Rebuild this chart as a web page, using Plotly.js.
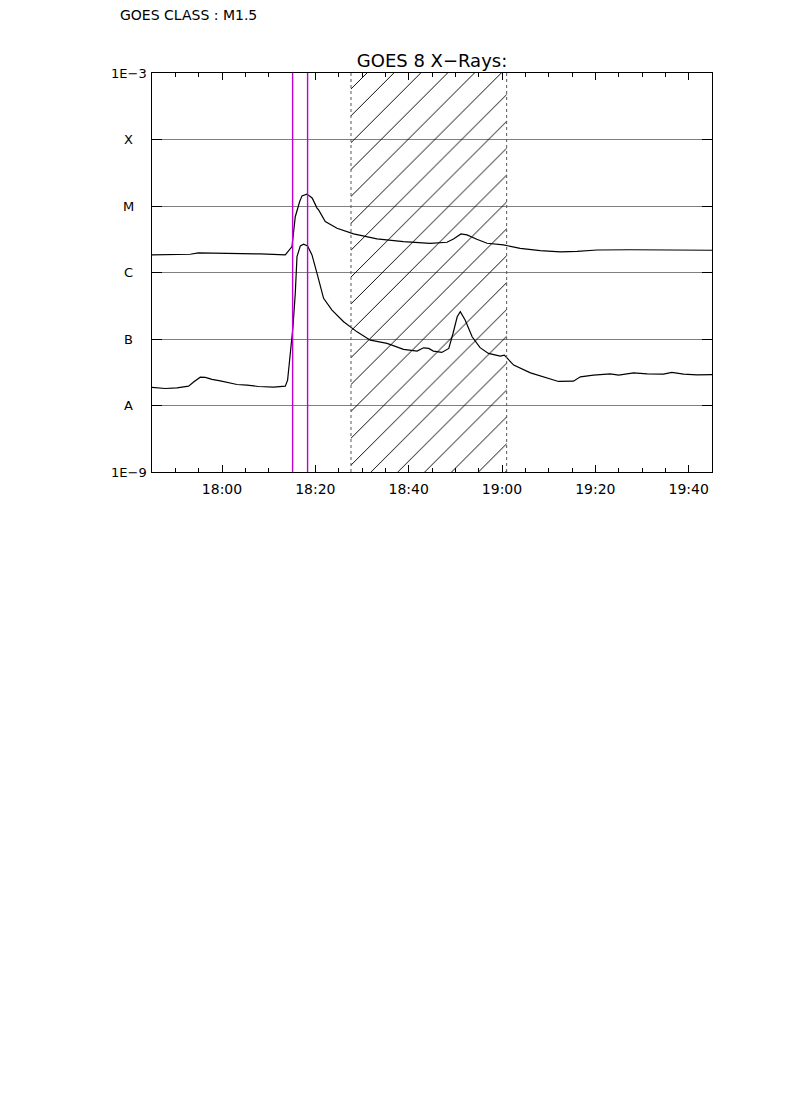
<!DOCTYPE html>
<html>
<head>
<meta charset="utf-8">
<script src="https://cdn.plot.ly/plotly-3.0.1.min.js"></script>
<style>
  html, body { margin: 0; padding: 0; background: #fff; }
  #chart { width: 790px; height: 1118px; }
</style>
</head>
<body>
<div id="chart"></div>
<script>
// ---- data (minutes relative to 18:00 UT, flux in W/m^2) ----
const longTimes = [-15.0, -12.15, -6.79, -5.08, 2.42, 8.2, 13.56, 14.2, 15.0, 15.7, 16.07, 16.63, 17.14, 17.63, 18.17, 18.92, 19.35, 20.36, 20.7, 22.13, 24.64, 28.2, 33.2, 38.9, 44.6, 48.2, 49.6, 51.2, 52.5, 54.6, 56.8, 60.3, 63.9, 68.2, 72.5, 76.1, 80.4, 87.5, 94.6, 105.0];
const longFlux = [1.84e-6, 1.84e-6, 1.88e-6, 1.97e-6, 1.95e-6, 1.90e-6, 1.84e-6, 2.06e-6, 2.45e-6, 6.9e-6, 8.73e-6, 1.16e-5, 1.42e-5, 1.47e-5, 1.51e-5, 1.39e-5, 1.31e-5, 9.3e-6, 8.73e-6, 5.82e-6, 4.63e-6, 3.80e-6, 3.20e-6, 2.91e-6, 2.75e-6, 2.85e-6, 3.20e-6, 3.80e-6, 3.67e-6, 3.16e-6, 2.75e-6, 2.60e-6, 2.31e-6, 2.13e-6, 2.04e-6, 2.08e-6, 2.18e-6, 2.20e-6, 2.20e-6, 2.16e-6];

const shortTimes = [-15.0, -12.15, -9.64, -7.16, -6.09, -4.65, -3.58, -2.14, -0.36, 3.21, 5.36, 7.84, 11.06, 13.56, 14.06, 14.63, 15.21, 15.7, 16.07, 16.78, 17.48, 18.34, 19.28, 20.36, 21.77, 23.57, 26.06, 28.93, 31.78, 35.36, 38.9, 41.8, 43.2, 44.3, 45.3, 47.1, 48.6, 49.5, 50.4, 51.06, 52.1, 53.6, 55.3, 57.1, 59.6, 60.5, 62.5, 66.1, 69.6, 72.1, 75.3, 76.8, 79.6, 83.2, 85.0, 88.2, 91.1, 94.6, 96.4, 98.9, 101.8, 105.0];
const shortFlux = [1.87e-8, 1.80e-8, 1.84e-8, 1.95e-8, 2.26e-8, 2.67e-8, 2.64e-8, 2.47e-8, 2.35e-8, 2.07e-8, 2.02e-8, 1.93e-8, 1.89e-8, 1.95e-8, 2.41e-8, 5.40e-8, 1.53e-7, 4.86e-7, 1.73e-6, 2.51e-6, 2.66e-6, 2.51e-6, 1.84e-6, 9.7e-7, 4.09e-7, 2.72e-7, 1.82e-7, 1.28e-7, 9.6e-8, 8.6e-8, 6.97e-8, 6.58e-8, 7.37e-8, 7.22e-8, 6.58e-8, 6.28e-8, 7.22e-8, 1.21e-7, 2.16e-7, 2.57e-7, 1.93e-7, 1.08e-7, 7.41e-8, 6.07e-8, 5.52e-8, 5.72e-8, 4.05e-8, 3.10e-8, 2.61e-8, 2.30e-8, 2.32e-8, 2.70e-8, 2.86e-8, 2.99e-8, 2.86e-8, 3.10e-8, 2.99e-8, 2.96e-8, 3.14e-8, 2.96e-8, 2.89e-8, 2.92e-8];

const flareMarks = [15.13, 18.34];        // magenta lines
const intervalMarks = [27.64, 61.0];      // hatched interval (dotted edges)
const timeRange = [-15, 105];
const classLabels = ['1E\u22129', 'A', 'B', 'C', 'M', 'X', '1E\u22123'];
const classLevels = [1e-9, 1e-8, 1e-7, 1e-6, 1e-5, 1e-4, 1e-3];
const goesClass = 'M1.5';
const chartTitle = 'GOES 8 X\u2212Rays:';

// ---- helpers ----
const base = Date.UTC(2000, 0, 1, 18, 0, 0);
const toT = m => base + m * 60000;

const FONT = 'DejaVu Sans, Liberation Sans, sans-serif';

const hatch = {
  x: [intervalMarks[0], intervalMarks[1], intervalMarks[1], intervalMarks[0], intervalMarks[0]].map(toT),
  y: [classLevels[0], classLevels[0], classLevels[6], classLevels[6], classLevels[0]],
  mode: 'lines', fill: 'toself', line: { width: 0, color: 'rgba(0,0,0,0)' },
  fillcolor: 'rgba(0,0,0,0)',
  fillpattern: { shape: '/', size: 19, solidity: 0.05, fgcolor: '#000', bgcolor: 'rgba(0,0,0,0)' },
  hoverinfo: 'skip', showlegend: false
};
const longTrace = {
  x: longTimes.map(toT), y: longFlux, mode: 'lines',
  line: { color: '#000', width: 1.2 }, showlegend: false
};
const shortTrace = {
  x: shortTimes.map(toT), y: shortFlux, mode: 'lines',
  line: { color: '#000', width: 1.2 }, showlegend: false
};

const shapes = [];
flareMarks.forEach(m => shapes.push({
  type: 'line', xref: 'x', yref: 'paper', x0: toT(m), x1: toT(m), y0: 0, y1: 1,
  line: { color: '#c000d0', width: 1.4 }, layer: 'above'
}));
intervalMarks.forEach(m => shapes.push({
  type: 'line', xref: 'x', yref: 'paper', x0: toT(m), x1: toT(m), y0: 0, y1: 1,
  line: { color: '#555', width: 1, dash: 'dot' }, layer: 'above'
}));

const annotations = classLabels.map((lab, i) => ({
  xref: 'paper', yref: 'y', x: -0.0414, y: Math.log10(classLevels[i]),
  text: lab, showarrow: false, xanchor: 'center', yanchor: 'middle',
  font: { family: FONT, size: 13, color: '#000' }
}));
annotations.push({
  xref: 'paper', yref: 'paper', x: -0.0607, y: 1.1444, xanchor: 'left', yanchor: 'middle',
  text: 'GOES CLASS : ' + goesClass, showarrow: false,
  font: { family: FONT, size: 14, color: '#000' }
});

const layout = {
  width: 790, height: 1118,
  margin: { l: 152, r: 78, t: 73, b: 646, pad: 0 },
  paper_bgcolor: '#fff', plot_bgcolor: '#fff',
  showlegend: false,
  title: {
    text: chartTitle, x: 0.5, xref: 'paper', xanchor: 'center',
    y: 1, yref: 'paper', yanchor: 'bottom', pad: { b: 6 },
    font: { family: FONT, size: 18, color: '#000' }
  },
  xaxis: {
    type: 'date', range: [toT(timeRange[0]), toT(timeRange[1])],
    tick0: toT(0), dtick: 20 * 60000, tickformat: '%H:%M',
    ticks: 'inside', ticklen: 7, tickcolor: '#000', tickwidth: 1,
    minor: { dtick: 5 * 60000, ticks: 'inside', ticklen: 4, tickcolor: '#000', showgrid: false },
    showline: true, linecolor: '#000', linewidth: 1, mirror: 'ticks',
    showgrid: false, zeroline: false, ticklabelstandoff: 4,
    tickfont: { family: FONT, size: 14, color: '#000' }
  },
  yaxis: {
    type: 'log', range: [-9, -3], tickvals: classLevels, showticklabels: false,
    ticks: 'inside', ticklen: 10, tickcolor: '#000', tickwidth: 1,
    showline: true, linecolor: '#000', linewidth: 1, mirror: 'ticks',
    showgrid: true, gridcolor: '#808080', gridwidth: 1, zeroline: false
  },
  shapes: shapes,
  annotations: annotations
};

Plotly.newPlot('chart', [hatch, longTrace, shortTrace], layout, { staticPlot: true, displayModeBar: false });
</script>
</body>
</html>
